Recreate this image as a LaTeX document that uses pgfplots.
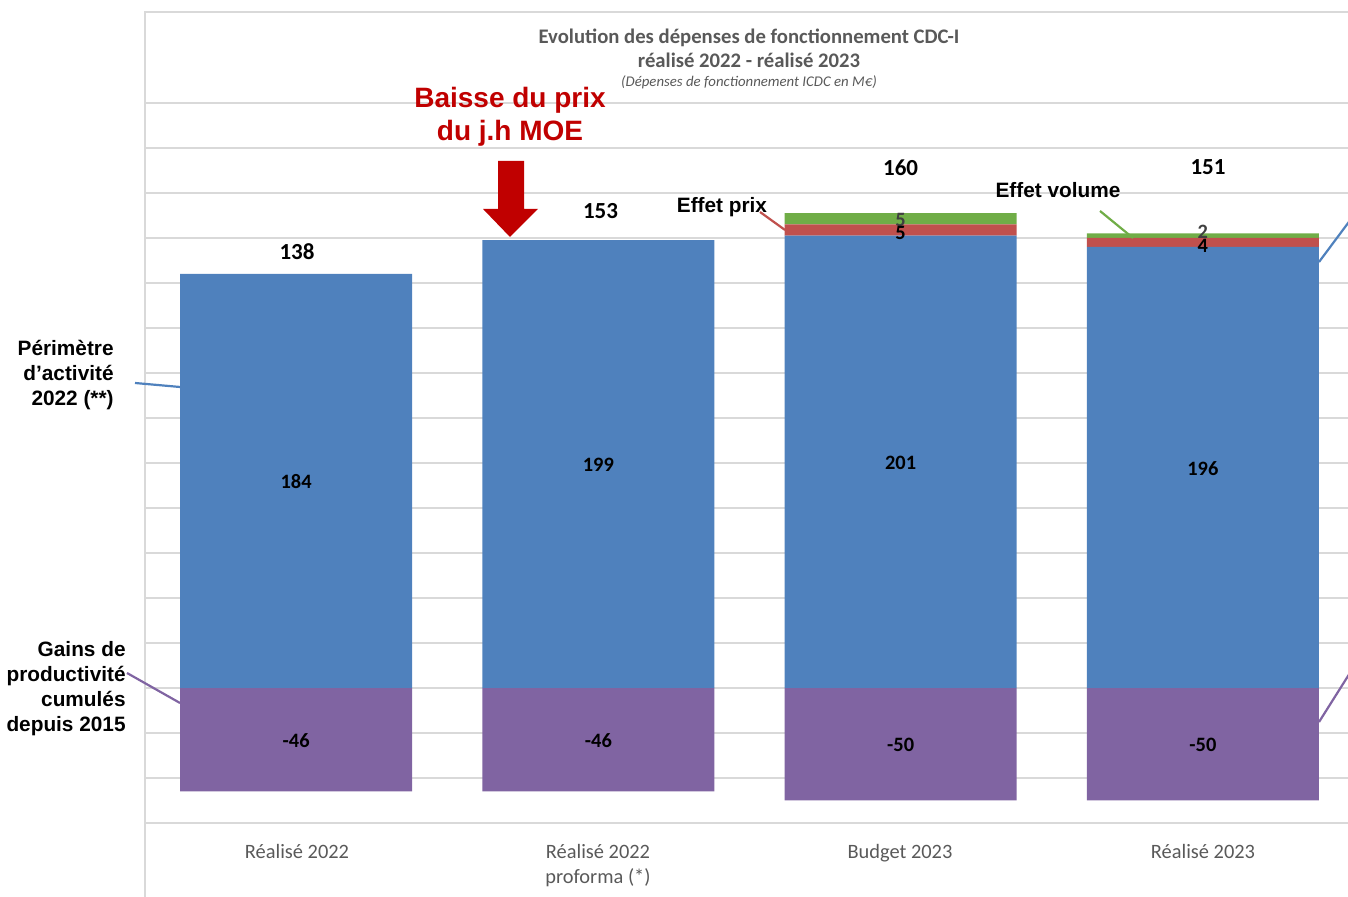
\documentclass[border=0pt]{standalone}
\usepackage{pgfplots}
\pgfplotsset{compat=1.18}
\usepackage{fontspec}
\setmainfont{Carlito}
\newfontfamily\arial{Liberation Sans}
\definecolor{cblue}{HTML}{4F81BD}
\definecolor{cred}{HTML}{C0504D}
\definecolor{cgreen}{HTML}{70AD47}
\definecolor{cpurple}{HTML}{8064A2}
\definecolor{cgrid}{HTML}{D9D9D9}
\definecolor{ctext}{HTML}{595959}
\definecolor{darkred}{HTML}{C00000}
\pgfplotsset{myax/.style={at={(72.5pt,37pt)}, anchor=south west, scale only axis,
  width=604.5pt, height=360pt, xmin=-0.5, xmax=3.5, ymin=-60, ymax=260,
  axis line style={draw=none}, xtick=\empty, major tick length=0pt, clip=false,
  bar width=116pt}}
\tikzset{inlab/.style={font=\bfseries\fontsize{10.2}{12}\selectfont},
  totlab/.style={font=\bfseries\fontsize{11.5}{13}\selectfont}}
\begin{document}
\begin{tikzpicture}[x=0.5pt,y=0.5pt]
\path[use as bounding box] (0,0) rectangle (1348,897);
\clip (0,0) rectangle (1348,897);
% chart area border
\draw[cgrid, line width=0.8pt] (145,0) -- (145,885) -- (1360,885);
\begin{axis}[myax, ybar, bar shift=0pt, ytick={-60,-40,...,260}, yticklabels={},
  ymajorgrids, grid style={draw=cgrid, line width=0.7pt}]
\addplot[fill=cpurple, draw=none] coordinates {(0,-46) (1,-46) (2,-50) (3,-50)};
\end{axis}
\begin{axis}[myax, ybar stacked, ytick=\empty]
\addplot[fill=cblue, draw=none] coordinates {(0,184) (1,199) (2,201) (3,196)};
\addplot[fill=cred, draw=none] coordinates {(0,0) (1,0) (2,5) (3,4)};
\addplot[fill=cgreen, draw=none] coordinates {(0,0) (1,0) (2,5) (3,2)};
\end{axis}
\begin{axis}[myax, ytick=\empty]
\node[inlab] at (axis cs:0,-23.6) {-46};
\node[inlab] at (axis cs:1,-23.6) {-46};
\node[inlab] at (axis cs:2,-25.3) {-50};
\node[inlab] at (axis cs:3,-25.3) {-50};
\node[inlab] at (axis cs:0,91.6) {184};
\node[inlab] at (axis cs:1,99.1) {199};
\node[inlab] at (axis cs:2,100) {201};
\node[inlab] at (axis cs:3,97.3) {196};
\node[inlab, text=black!75] at (axis cs:2,208) {5};
\node[inlab] at (axis cs:2,202.2) {5};
\node[inlab, text=black!75] at (axis cs:3,202.7) {2};
\node[inlab] at (axis cs:3,196.5) {4};
\node[totlab] at (axis cs:0.003,193.8) {138};
\node[totlab] at (axis cs:1.007,212) {153};
\node[totlab] at (axis cs:2,231) {160};
\node[totlab] at (axis cs:3.017,231.6) {151};
\end{axis}
% title
\node[text=ctext, font=\bfseries\fontsize{10.35}{12}\selectfont, align=center] at (749,849) {Evolution des dépenses de fonctionnement CDC-I\\réalisé 2022 - réalisé 2023};
\node[text=ctext, font=\itshape\fontsize{7.4}{8}\selectfont] at (749,815) {(Dépenses de fonctionnement ICDC en M€)};
% category labels
\node[text=ctext, font=\fontsize{10.2}{12.5}\selectfont, inner sep=0pt, anchor=north] at (297,53) {Réalisé 2022};
\node[text=ctext, font=\fontsize{10.2}{12.5}\selectfont, inner sep=0pt, anchor=north, align=center] at (598,53) {Réalisé 2022\\proforma (*)};
\node[text=ctext, font=\fontsize{10.2}{12.5}\selectfont, inner sep=0pt, anchor=north] at (900,53) {Budget 2023};
\node[text=ctext, font=\fontsize{10.2}{12.5}\selectfont, inner sep=0pt, anchor=north] at (1203,53) {Réalisé 2023};
% annotations
\node[text=darkred, font=\arial\bfseries\fontsize{14}{16.5}\selectfont, align=center, inner sep=0pt] at (510,780) {Baisse du prix\\du j.h MOE};
\fill[darkred] (498,736) -- (524,736) -- (524,688) -- (538,688) -- (510,660) -- (483,688) -- (498,688) -- cycle;
\node[font=\arial\bfseries\fontsize{10.4}{12.5}\selectfont, inner sep=0pt, anchor=east, align=right] at (114,522) {Périmètre\\d’activité\\2022 (**)};
\node[font=\arial\bfseries\fontsize{10.4}{12.5}\selectfont, inner sep=0pt, anchor=east, align=right] at (126,208) {Gains de\\productivité\\cumulés\\depuis 2015};
\node[font=\arial\bfseries\fontsize{10.4}{12.5}\selectfont, inner sep=0pt] at (722,690) {Effet prix};
\node[font=\arial\bfseries\fontsize{10.4}{12.5}\selectfont, inner sep=0pt] at (1058,707) {Effet volume};
\draw[cblue, line width=1.1pt] (135,514) -- (180,510);
\draw[cpurple, line width=1.1pt] (127,224) -- (180,194);
\draw[cred, line width=1.1pt] (760,685) -- (785,667);
\draw[cgreen, line width=1.1pt] (1100,686) -- (1133,659);
\draw[cblue, line width=1.1pt] (1319,635) -- (1360,690);
\draw[cpurple, line width=1.1pt] (1319,175) -- (1360,240);
\end{tikzpicture}
\end{document}
